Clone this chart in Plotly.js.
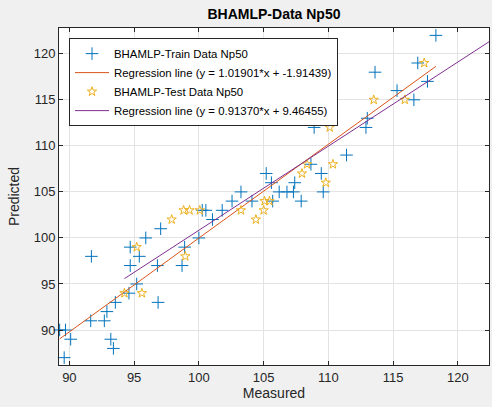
<!DOCTYPE html>
<html>
<head>
<meta charset="utf-8">
<script src="https://cdn.plot.ly/plotly-3.0.1.min.js"></script>
<style>
html,body{margin:0;padding:0;background:#f0f0f0;}
#chart{width:492px;height:407px;}
</style>
</head>
<body>
<div id="chart"></div>
<script>
// Train data (Measured, Predicted)
var trainMeasured = [89.25, 89.7, 89.6, 90.1, 91.0, 91.65, 91.7, 92.7, 92.9, 93.2, 93.4, 93.55, 94.6, 94.7, 94.7, 95.2, 95.4, 95.9, 96.8, 96.85, 97.05, 98.7, 98.9, 100.0, 100.26, 100.54, 101.05, 101.8, 102.56, 103.25, 104.1, 105.2, 105.6, 105.7, 106.2, 106.8, 107.3, 107.4, 107.9, 108.65, 108.9, 109.45, 109.6, 111.4, 112.9, 113.0, 113.6, 115.3, 116.6, 116.9, 117.65, 118.3];
var trainPredicted = [90, 90, 87, 89, 86, 91, 98, 91, 92, 89, 88, 93, 94, 97, 99, 95, 98, 100, 97, 93, 101, 97, 99, 100, 103, 103, 102, 103, 104, 105, 104, 107, 106, 104, 105, 105, 105, 106, 104, 108, 112, 107, 105, 109, 112, 113, 118, 116, 115, 119, 117, 122];
// Test data (Measured, Predicted)
var testMeasured = [94.25, 95.2, 95.6, 97.9, 98.82, 98.95, 99.28, 100.07, 103.25, 104.4, 105.0, 105.07, 105.45, 107.96, 108.35, 109.8, 110.1, 110.35, 113.5, 115.9, 117.4, 122.4];
var testPredicted = [94, 99, 94, 102, 103, 98, 103, 103, 103, 102, 103, 104, 104, 107, 108, 106, 112, 108, 115, 115, 119, 123];
// Regression coefficients (from legend)
var trainSlope = 1.01901, trainIntercept = -1.91439;
var testSlope = 0.91370, testIntercept = 9.46455;
// Ticks
var xTicks = [90, 95, 100, 105, 110, 115, 120];
var yTicks = [90, 95, 100, 105, 110, 115, 120];

function fitLine(xs, m, b) {
  var lo = Math.min.apply(null, xs), hi = Math.max.apply(null, xs);
  return {x: [lo, hi], y: [m * lo + b, m * hi + b]};
}
var trLine = fitLine(trainMeasured, trainSlope, trainIntercept);
var teLine = fitLine(testMeasured, testSlope, testIntercept);

var traces = [
  {x: trainMeasured, y: trainPredicted, mode: 'markers', type: 'scatter',
   name: 'BHAMLP-Train Data Np50', cliponaxis: false,
   marker: {symbol: 'cross-thin-open', size: 9, color: '#0072BD', line: {width: 1, color: '#0072BD'}}},
  {x: trLine.x, y: trLine.y, mode: 'lines', type: 'scatter',
   name: 'Regression line (y = 1.01901*x + -1.91439)',
   line: {color: '#D95319', width: 1}},
  {x: testMeasured, y: testPredicted, mode: 'markers', type: 'scatter',
   name: 'BHAMLP-Test Data Np50', cliponaxis: false,
   marker: {symbol: 'star-open', size: 7, color: '#EDB120', line: {width: 1, color: '#EDB120'}}},
  {x: teLine.x, y: teLine.y, mode: 'lines', type: 'scatter',
   name: 'Regression line (y = 0.91370*x + 9.46455)',
   line: {color: '#7E2F8E', width: 1}}
];

var axisCommon = {
  showline: true, linecolor: '#262626', linewidth: 1, mirror: 'ticks',
  ticks: 'inside', ticklen: 4, tickcolor: '#262626', tickwidth: 1,
  showgrid: true, gridcolor: '#e3e3e3', gridwidth: 1, zeroline: false,
  tickfont: {family: 'Liberation Sans, Arial, sans-serif', size: 13, color: '#262626'}
};

var layout = {
  width: 492, height: 407,
  paper_bgcolor: '#f0f0f0', plot_bgcolor: '#ffffff',
  margin: {l: 59, r: 3, t: 28, b: 42},
  title: {text: '<b>BHAMLP-Data Np50</b>', x: 0.5, xref: 'paper', y: 0.966, yanchor: 'middle',
          font: {family: 'Liberation Sans, Arial, sans-serif', size: 14, color: '#000000'}},
  xaxis: Object.assign({}, axisCommon, {
    range: [89.2, 122.4], tickvals: xTicks, ticktext: xTicks.map(String),
    title: {text: 'Measured', standoff: 4, font: {family: 'Liberation Sans, Arial, sans-serif', size: 14, color: '#262626'}}
  }),
  yaxis: Object.assign({}, axisCommon, {
    range: [86.2, 122.8], tickvals: yTicks, ticktext: yTicks.map(String),
    title: {text: 'Predicted', standoff: 10, font: {family: 'Liberation Sans, Arial, sans-serif', size: 14, color: '#262626'}}
  }),
  showlegend: true,
  legend: {x: 0.0233, y: 0.970, xanchor: 'left', yanchor: 'top',
           bgcolor: '#ffffff', bordercolor: '#262626', borderwidth: 1,
           itemwidth: 34,
           font: {family: 'Liberation Sans, Arial, sans-serif', size: 11.4, color: '#000000'},
           tracegroupgap: 0}
};

Plotly.newPlot('chart', traces, layout, {displayModeBar: false, staticPlot: true});
</script>
</body>
</html>
